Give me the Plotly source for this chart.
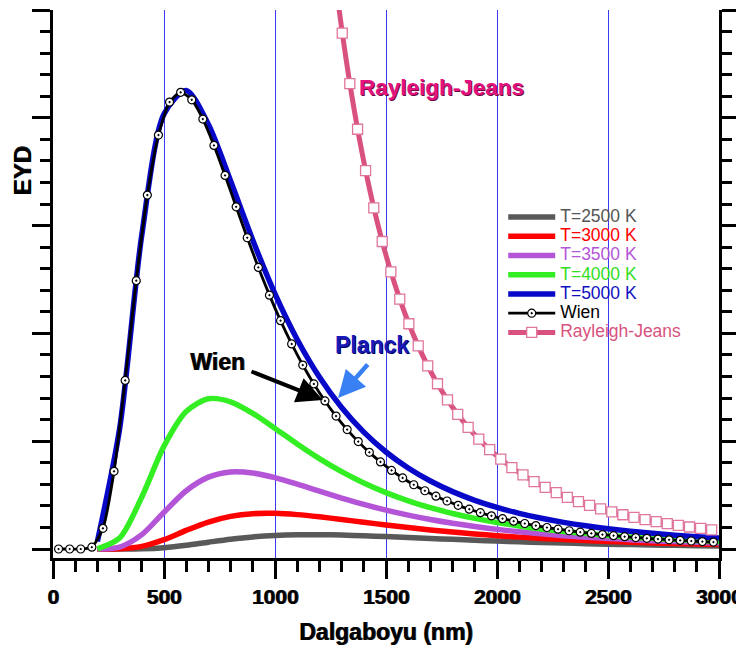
import plotly.graph_objects as go

# ---------------- data ----------------
wavelength_nm = [200, 300, 400, 500, 600, 700, 800, 900, 1000, 1100, 1200, 1300, 1400, 1500,
                 1600, 1700, 1800, 1900, 2000, 2100, 2200, 2300, 2400, 2500, 2600, 2700, 2800,
                 2900, 3000]

planck_2500 = [0.0, 0.0002, 0.0066, 0.0382, 0.1046, 0.1905, 0.2732, 0.3375, 0.3783, 0.3972,
               0.3988, 0.3879, 0.3691, 0.3456, 0.3200, 0.2940, 0.2686, 0.2444, 0.2219, 0.2012,
               0.1822, 0.1651, 0.1496, 0.1356, 0.1230, 0.1117, 0.1016, 0.0925, 0.0844]
planck_3000 = [0.0, 0.0056, 0.0722, 0.2602, 0.5174, 0.7505, 0.9077, 0.9829, 0.9923, 0.9572,
               0.8960, 0.8222, 0.7445, 0.6684, 0.5967, 0.5310, 0.4718, 0.4190, 0.3722, 0.3309,
               0.2945, 0.2626, 0.2346, 0.2099, 0.1882, 0.1691, 0.1523, 0.1374, 0.1242]
planck_3500 = [0.0004, 0.0548, 0.4003, 1.0245, 1.6219, 2.0006, 2.1446, 2.1160, 1.985, 1.8045,
               1.6090, 1.4179, 1.2408, 1.0819, 0.9420, 0.8203, 0.7151, 0.6245, 0.5465, 0.4795,
               0.4218, 0.3720, 0.3291, 0.2919, 0.2597, 0.2316, 0.2071, 0.1857, 0.1669]
planck_4000 = [0.0058, 0.3042, 1.4464, 2.8647, 3.825, 4.181, 4.098, 3.776, 3.356, 2.922,
               2.5145, 2.1514, 1.8367, 1.5682, 1.3410, 1.1495, 0.9885, 0.8527, 0.7384, 0.6416,
               0.5596, 0.4899, 0.4303, 0.3793, 0.3354, 0.2976, 0.2648, 0.2364, 0.2116]
planck_5000 = [0.210, 3.346, 8.742, 12.105, 12.761, 11.811, 10.241, 8.595, 7.101, 5.832,
               4.786, 3.937, 3.252, 2.6995, 2.2533, 1.8918, 1.5971, 1.3560, 1.1575, 0.9931,
               0.8563, 0.7419, 0.6456, 0.5643, 0.4951, 0.4361, 0.3856, 0.3421, 0.3045]

wien_nm = [25, 75, 125, 175, 225, 275, 325, 375, 425, 475, 525, 575, 625, 675, 725, 775, 825,
           875, 925, 975, 1025, 1075, 1125, 1175, 1225, 1275, 1325, 1375, 1425, 1475, 1525,
           1575, 1625, 1675, 1725, 1775, 1825, 1875, 1925, 1975, 2025, 2075, 2125, 2175, 2225,
           2275, 2325, 2375, 2425, 2475, 2525, 2575, 2625, 2675, 2725, 2775, 2825, 2875, 2925,
           2975]
wien_5000 = [0.0, 0.0, 0.0004, 0.0524, 0.5765, 2.1617, 4.6908, 7.467, 9.850, 11.520, 12.437,
             12.710, 12.501, 11.966, 11.232, 10.396, 9.524, 8.662, 7.837, 7.065, 6.354, 5.706,
             5.120, 4.593, 4.121, 3.700, 3.324, 2.989, 2.690, 2.425, 2.188, 1.977, 1.789, 1.621,
             1.4705, 1.3361, 1.2157, 1.1076, 1.0105, 0.9232, 0.8446, 0.7737, 0.7096, 0.6517,
             0.5992, 0.5517, 0.5085, 0.4692, 0.4335, 0.4009, 0.3713, 0.3441, 0.3193, 0.2966,
             0.2757, 0.2566, 0.2390, 0.2229, 0.2080, 0.1943]

rj_nm = [1225, 1270, 1303, 1337, 1372, 1408, 1445, 1483, 1522, 1562, 1603, 1645, 1688, 1732,
         1777, 1823, 1870, 1918, 1967, 2017, 2067, 2117, 2167, 2217, 2267, 2317, 2367, 2417,
         2467, 2517, 2567, 2617, 2667, 2717, 2767, 2817, 2867, 2917, 2967]
rj_5000 = [18.380, 15.910, 14.359, 12.953, 11.681, 10.531, 9.4935, 8.5573, 7.7132, 6.9530,
           6.2685, 5.6524, 5.0981, 4.5995, 4.1509, 3.7476, 3.3848, 3.0585, 2.7649, 2.5008,
           2.2674, 2.0607, 1.8770, 1.7133, 1.5671, 1.4361, 1.3186, 1.2128, 1.1174, 1.0313,
           0.9532, 0.8824, 0.8181, 0.7595, 0.7061, 0.6573, 0.6126, 0.5717, 0.5341]

x_tick_vals = [0, 500, 1000, 1500, 2000, 2500, 3000]
x_tick_text = ["0", "500", "1000", "1500", "2000", "2500", "3000"]

planck_series = [
    ("T=2500 K", planck_2500, "#595959", "#555555"),
    ("T=3000 K", planck_3000, "#ff0000", "#ff0000"),
    ("T=3500 K", planck_3500, "#b455d8", "#b455d8"),
    ("T=4000 K", planck_4000, "#33ee22", "#33dd22"),
    ("T=5000 K", planck_5000, "#0808c8", "#1010c0"),
]

FONT = "Liberation Sans"
LEG_SIZE = "17.5px"
SHADOW = "1px 0px 0px rgba(0,0,0,0.85)"

fig = go.Figure()
for name, vals, col, tcol in planck_series:
    fig.add_trace(go.Scatter(
        x=wavelength_nm, y=vals, mode="lines",
        line=dict(color=col, width=5.5, shape="spline", smoothing=0.8),
        name=f'<span style="color:{tcol};font-size:{LEG_SIZE}">{name}</span>',
    ))

fig.add_trace(go.Scatter(
    x=wien_nm, y=wien_5000, mode="lines+markers",
    line=dict(color="black", width=2.8, shape="spline", smoothing=0.6),
    marker=dict(symbol="circle-dot", size=8, color="white", line=dict(color="black", width=1.2)),
    name=f'<span style="color:black;font-size:{LEG_SIZE}">Wien</span>',
))

fig.add_trace(go.Scatter(
    x=rj_nm, y=rj_5000, mode="lines+markers",
    line=dict(color="#d9517f", width=5, shape="spline", smoothing=0.6),
    marker=dict(symbol="square", size=10, color="white", line=dict(color="#e0769e", width=1.3)),
    name=f'<span style="color:#d9527e;font-size:{LEG_SIZE}">Rayleigh-Jeans</span>',
))

bold = dict(family=FONT, size=21, color="black", weight="bold", shadow=SHADOW)

annotations = [
    dict(text="Dalgaboyu (nm)", xref="paper", yref="paper", x=0.5, y=-0.135,
         xanchor="center", yanchor="middle", showarrow=False, font=dict(bold, size=23)),
    dict(text="EYD", xref="paper", yref="paper", x=-0.046, y=0.706, textangle=-90,
         xanchor="center", yanchor="middle", showarrow=False, font=dict(bold, size=24)),
    dict(text="Rayleigh-Jeans", xref="x", yref="y", x=1751, y=12.84, showarrow=False,
         xanchor="center", yanchor="middle",
         font=dict(family=FONT, size=22.5, color="#e4127f", weight="bold",
                   shadow="1px 1px 0px #6a0a40")),
    dict(text="Planck", xref="x", yref="y", x=1437, y=5.68, showarrow=False,
         xanchor="center", yanchor="middle",
         font=dict(family=FONT, size=23, color="#1a1ab8", weight="bold",
                   shadow="1px 1px 0px #000060")),
    dict(text="Wien", xref="x", yref="y", x=741, y=5.20, showarrow=False,
         xanchor="center", yanchor="middle", font=dict(bold, size=23)),
    dict(text="", xref="x", yref="y", x=1216, y=4.15, ax=-73, ay=-29, showarrow=True,
         arrowhead=2, arrowsize=1.3, arrowwidth=4, arrowcolor="black", standoff=0),
    dict(text="", xref="x", yref="y", x=1284, y=4.20, ax=31, ay=-35, showarrow=True,
         arrowhead=2, arrowsize=1.2, arrowwidth=4.5, arrowcolor="#3a80f5", standoff=0),
]

# the page body adds an 8 px offset, so the figure is 8 px smaller than the window
fig.update_layout(
    width=736, height=640,
    margin=dict(l=45, r=25, t=2, b=90, autoexpand=False),
    paper_bgcolor="white", plot_bgcolor="white",
    font=dict(family=FONT, color="black"),
    showlegend=True,
    legend=dict(x=0.676, y=0.649, xanchor="left", yanchor="top",
                bgcolor="rgba(0,0,0,0)", font=dict(family=FONT, size=12.5),
                itemwidth=47, tracegroupgap=0),
    annotations=annotations,
    xaxis=dict(
        range=[0, 3000], tickvals=x_tick_vals, ticktext=x_tick_text,
        automargin=False,
        showline=True, linecolor="black", linewidth=3,
        ticks="outside", ticklen=18, tickwidth=3, tickcolor="black",
        tickfont=bold,
        showgrid=True, gridcolor="#3a3af0", gridwidth=1,
        zeroline=False,
        minor=dict(dtick=100, ticks="outside", ticklen=11, tickwidth=3, tickcolor="black",
                   showgrid=False),
    ),
    yaxis=dict(
        range=[-0.25, 15], tick0=0, dtick=3,
        automargin=False,
        showline=True, linecolor="black", linewidth=3, mirror="ticks",
        ticks="outside", ticklen=18, tickwidth=3, tickcolor="black",
        showticklabels=False, showgrid=False, zeroline=False,
        minor=dict(dtick=0.6, ticks="outside", ticklen=10, tickwidth=3, tickcolor="black",
                   showgrid=False),
    ),
)

fig.write_html("out.html")
